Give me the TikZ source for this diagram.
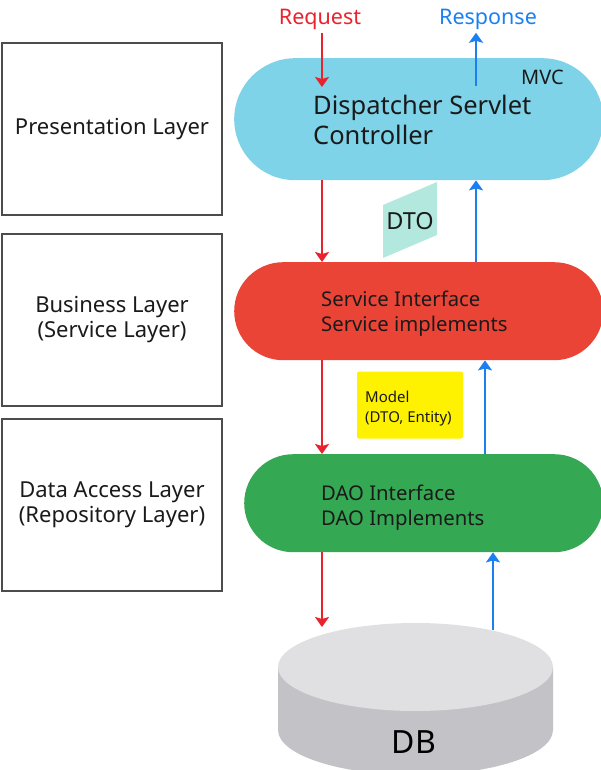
\documentclass[tikz,border=0pt]{standalone}
\usepackage{fontspec}
\setmainfont{Noto Sans}
\usepackage{tikz}
\usetikzlibrary{arrows.meta}
\definecolor{mvcblue}{HTML}{7FD3E8}
\definecolor{svcred}{HTML}{E94436}
\definecolor{daogreen}{HTML}{34A853}
\definecolor{dtomint}{HTML}{B3E8DE}
\definecolor{dbtop}{HTML}{E0DFE1}
\definecolor{dbside}{HTML}{C3C2C6}
\definecolor{reqred}{HTML}{E8232D}
\definecolor{respblue}{HTML}{1A7FF0}
\definecolor{txt}{HTML}{1A1A1A}
\tikzstyle{layer}=[draw=black!70,line width=1.2pt,fill=white,minimum width=220pt,minimum height=172pt,inner sep=0pt,font=\fontsize{22}{25}\selectfont,text=txt,align=center]
\tikzstyle{pill}=[anchor=north west,minimum width=369pt,inner sep=0pt]
\tikzstyle{lbl}=[anchor=west,align=left,text=txt,inner sep=0pt]
\tikzstyle{arrq}=[-{Stealth[length=10pt,width=14pt,inset=2pt]},draw=reqred,line width=2pt]
\tikzstyle{arrp}=[-{Stealth[length=10pt,width=14pt,inset=2pt]},draw=respblue,line width=2pt]

\begin{document}
\begin{tikzpicture}[x=1pt,y=-1pt]
    \useasboundingbox (0,0) rectangle (601,770);
    % layers on the left
    \node[layer] (pres) at (112,129) {Presentation Layer};
    \node[layer] (bus) at (112,320) {Business Layer\\(Service Layer)};
    \node[layer] (data) at (112,505) {Data Access Layer\\(Repository Layer)};
    % pills
    \node[pill,fill=mvcblue,minimum height=122pt,rounded corners=61pt] (disp) at (234,58) {};
    \node[pill,fill=svcred,minimum height=98pt,rounded corners=49pt] (svc) at (234,262) {};
    \node[pill,fill=daogreen,minimum width=359pt,minimum height=98pt,rounded corners=49pt] (dao) at (244,454) {};
    \node[lbl,font=\fontsize{25.5}{30}\selectfont] (displbl) at (313,120) {Dispatcher Servlet\\Controller};
    \node[lbl,font=\fontsize{20}{25}\selectfont] (mvc) at (521,77) {MVC};
    \node[lbl,font=\fontsize{20.3}{25}\selectfont] (svclbl) at (321,314) {Service Interface\\Service implements};
    \node[lbl,font=\fontsize{20.3}{25}\selectfont] (daolbl) at (321,508) {DAO Interface\\DAO Implements};
    % data objects
    \fill[dtomint] (383,205) -- (437,182) -- (437,235) -- (383,258) -- cycle;
    \node[text=txt,font=\fontsize{23.5}{28}\selectfont] (dto) at (410,221) {DTO};
    \node[fill=yellow,rounded corners=2pt,minimum width=106pt,minimum height=67pt,inner sep=0pt] (model) at (410,405) {};
    \node[lbl,font=\fontsize{15}{20}\selectfont] (modellbl) at (365,409) {Model\\(DTO, Entity)};
    % database
    \fill[dbside] (278,667) -- (278,730) arc[start angle=180,end angle=0,x radius=137.5,y radius=45] -- (553,667) -- cycle;
    \fill[dbtop] (415.5,667) ellipse[x radius=137.5,y radius=44];
    \node[text=black,font=\fontsize{32}{36}\selectfont] (db) at (414,742) {DB};
    % request / response
    \node[text=reqred,font=\fontsize{21.5}{24}\selectfont] (req) at (320,19) {Request};
    \node[text=respblue,font=\fontsize{21.5}{24}\selectfont] (resp) at (488,19) {Response};
    \coordinate (reqend) at (322,87);
    \coordinate (respbeg) at (476,86);
    \coordinate (up1) at (476,0);
    \coordinate (up2) at (485,0);
    \coordinate (up3) at (493,0);
    \coordinate (dbin) at (322,627);
    \coordinate (dbout) at (493,630);
    \draw[arrq] (req.south -| reqend) -- (reqend);
    \draw[arrp] (respbeg) -- (up1 |- resp.south);
    \draw[arrq] (disp.south -| reqend) -- (svc.north -| reqend);
    \draw[arrq] (svc.south -| reqend) -- (dao.north -| reqend);
    \draw[arrq] (dao.south -| reqend) -- (dbin);
    \draw[arrp] (svc.north -| up1) -- (disp.south -| up1);
    \draw[arrp] (dao.north -| up2) -- (svc.south -| up2);
    \draw[arrp] (dbout) -- (dao.south -| up3);
\end{tikzpicture}
\end{document}
